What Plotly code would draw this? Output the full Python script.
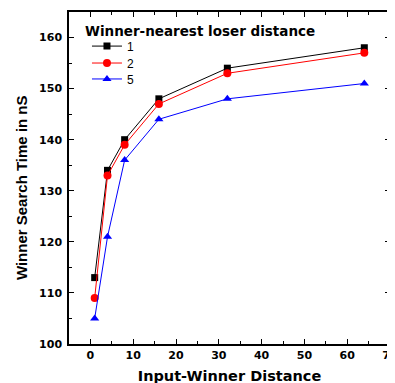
import plotly.graph_objects as go

x_vals = [1, 4, 8, 16, 32, 64]
series_names = ["1", "2", "5"]
y_d1 = [113, 134, 140, 148, 154, 158]
y_d2 = [109, 133, 139, 147, 153, 157]
y_d5 = [105, 121, 136, 144, 148, 151]

colors = ["black", "red", "blue"]
symbols = ["square", "circle", "triangle-up"]
msizes = [7, 8, 8]
legend_ids = ["legend", "legend2", "legend3"]
legend_y = [0.941, 0.890, 0.842]

fig = go.Figure()
for name, ys, c, s, ms, lg in zip(series_names, [y_d1, y_d2, y_d5], colors, symbols, msizes, legend_ids):
    fig.add_trace(go.Scatter(x=x_vals, y=ys, mode="lines+markers", name=name,
                             line=dict(color=c, width=1), legend=lg,
                             marker=dict(color=c, symbol=s, size=ms)))

arial = "Liberation Sans, Arial, sans-serif"
dejavu = "DejaVu Sans, sans-serif"
axis_common = dict(showline=True, linecolor="black", linewidth=1.5, mirror="ticks",
                   ticks="inside", ticklen=5, tickwidth=1, tickcolor="black",
                   showgrid=False, zeroline=False, automargin=False,
                   tickfont=dict(family=dejavu, size=11, color="black", weight="bold"))

legend_style = dict(x=0.056, xanchor="left", yanchor="top", bgcolor="rgba(0,0,0,0)",
                    font=dict(family=arial, size=12), itemsizing="trace")

# page body has an 8px default margin; margins below compensate so the
# plot area sits at x 69..390, y 12..344 of the window
fig.update_layout(
    width=395, height=383,
    margin=dict(l=61, r=13, t=4, b=47),
    plot_bgcolor="white", paper_bgcolor="white",
    font=dict(family=arial, color="black"),
    showlegend=True,
    legend=dict(y=legend_y[0], **legend_style),
    legend2=dict(y=legend_y[1], **legend_style),
    legend3=dict(y=legend_y[2], **legend_style),
    annotations=[
        dict(text="<b>Winner Search Time in nS</b>", xref="paper", yref="paper",
             x=-0.146, y=0.47, xanchor="center", yanchor="middle", textangle=-90,
             showarrow=False, font=dict(family=arial, size=15, color="black")),
        dict(text="<b>Winner-nearest loser distance</b>", xref="paper", yref="paper",
             x=0.044, y=0.943, xanchor="left", yanchor="middle", showarrow=False,
             font=dict(family=dejavu, size=13.5, color="black")),
    ],
)
fig.update_xaxes(range=[-5, 70], dtick=10, tick0=0,
                 minor=dict(dtick=5, ticks="inside", ticklen=3, tickcolor="black"),
                 title=dict(text="<b>Input-Winner Distance</b>", font=dict(family=dejavu, size=14.5), standoff=10),
                 **axis_common)
fig.update_yaxes(range=[100, 165], dtick=10, tick0=100, ticklabelstandoff=3,
                 minor=dict(dtick=5, ticks="inside", ticklen=3, tickcolor="black"),
                 **axis_common)

fig.write_html("out.html")
